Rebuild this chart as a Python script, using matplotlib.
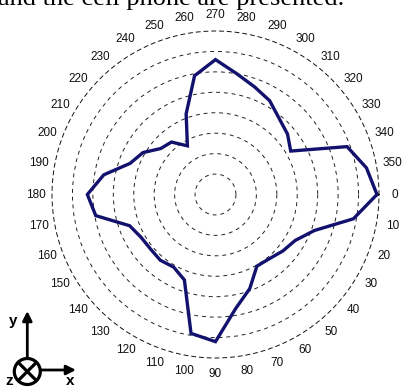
import numpy as np
import matplotlib
matplotlib.use('Agg')
import matplotlib.pyplot as plt
from matplotlib.patches import Circle

# angle (deg) and radial response of the measured pattern
angles = [0, 10, 20, 30, 40, 50, 60, 70, 80, 90, 100, 110, 120, 130, 140, 150, 160, 170,
          180, 190, 200, 210, 220, 230, 240, 250, 260, 270, 280, 290, 300, 310, 320, 330, 340, 350]
radius = [7.9, 6.85, 5.15, 4.5, 4.3, 4.1, 4.05, 4.9, 5.67, 7.2, 6.9, 4.45, 4.1, 4.2, 4.15, 4.2, 4.47, 5.95,
          6.27, 5.55, 4.45, 4.1, 3.5, 3.35, 2.75, 4.2, 5.9, 6.6, 6.0, 5.6, 5.3, 4.85, 4.6, 4.25, 6.85, 7.5]
tick_angles = list(range(0, 360, 10))
tick_labels = [str(a) for a in tick_angles]
rings = [1, 2, 3, 4, 5, 6, 7]
rmax = 8

W, H = 404, 388
fig = plt.figure(figsize=(W / 100, H / 100), dpi=100)

ax = fig.add_axes([52 / W, 30 / H, 327 / W, 327 / H], projection='polar')
ax.set_theta_zero_location('E')
ax.set_theta_direction(-1)
ax.set_ylim(0, rmax)

# dashed rings, no spokes
ax.set_rgrids(rings, labels=[''] * len(rings))
ax.yaxis.grid(True, color='#222222', linestyle=(0, (4, 4)), linewidth=0.7)
ax.xaxis.grid(False)
ax.set_xticks([])
ax.spines['polar'].set_linestyle((0, (4, 4)))
ax.spines['polar'].set_linewidth(0.7)
ax.spines['polar'].set_color('#111111')

th = np.deg2rad(angles + [angles[0]])
rr = radius + [radius[0]]
ax.plot(th, rr, color='#12126e', linewidth=2.4, solid_joinstyle='miter', clip_on=False)

for a, lab in zip(tick_angles, tick_labels):
    ax.text(np.deg2rad(a), 8.78, lab, ha='center', va='center', fontsize=8.5,
            family='Liberation Sans', color='#111111')

# overlay in pixel coordinates for caption and axis glyph
ov = fig.add_axes([0, 0, 1, 1], facecolor='none')
ov.set_xlim(0, W)
ov.set_ylim(H, 0)
ov.axis('off')

ov.text(-2, 5.5, 'and the cell phone are presented.', ha='left', va='baseline',
        fontsize=19, family='Liberation Serif', color='black')

cx, cy, cr = 27.3, 371.5, 13
ov.add_patch(Circle((cx, cy), cr, fill=False, lw=2.3, color='black'))
d = cr * 0.68
ov.plot([cx - d, cx + d], [cy - d, cy + d], color='black', lw=2.3)
ov.plot([cx - d, cx + d], [cy + d, cy - d], color='black', lw=2.3)
ov.annotate('', xy=(cx, 311), xytext=(cx, cy - cr),
            arrowprops=dict(arrowstyle='-|>', color='black', lw=2, mutation_scale=14, shrinkA=0, shrinkB=0))
ov.annotate('', xy=(76, 370), xytext=(cx + cr, 370),
            arrowprops=dict(arrowstyle='-|>', color='black', lw=2, mutation_scale=14, shrinkA=0, shrinkB=0))
ov.text(13, 321, 'y', ha='center', va='center', fontsize=11, fontweight='bold', family='Liberation Sans')
ov.text(70, 388, 'x', ha='center', va='bottom', fontsize=11, fontweight='bold', family='Liberation Sans')
ov.text(9, 388, 'z', ha='center', va='bottom', fontsize=11, fontweight='bold', family='Liberation Sans')

fig.savefig('out.png', dpi=100)
